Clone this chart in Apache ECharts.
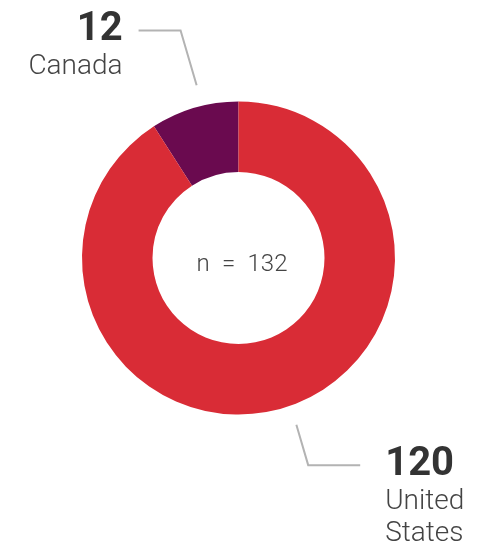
<!DOCTYPE html>
<html>
<head>
<meta charset="utf-8">
<style>
  html, body { margin: 0; padding: 0; background: #fff; }
  #main { width: 482px; height: 546px; }
</style>
<script src="https://cdn.jsdelivr.net/npm/echarts@6/dist/echarts.min.js"></script>
</head>
<body>
<div id="main"></div>
<script>
// data
var countries = ['Canada', 'United States'];
var nameLines = [['Canada'], ['United', 'States']];
var counts = [12, 120];
var colors = ['#6a0a4f', '#d92c36'];
var total = counts.reduce(function (a, b) { return a + b; }, 0);

var myChart = echarts.init(document.getElementById('main'));

var NAME_LH = 32;

// label data: Canada first, drawn counter-clockwise from top
var pieData = countries.map(function (c, i) {
  var lines = nameLines[i].map(function (t) { return '{name|' + t + '}'; });
  return {
    name: c,
    value: counts[i],
    label: {
      formatter: '{num|' + counts[i] + '}\n' + lines.join('\n'),
      // push the name lines below so the number sits on the line
      padding: [NAME_LH * nameLines[i].length, 0, 0, 0],
      distanceToLabelLine: i === 0 ? 16 : 25
    },
    labelLine: i === 0 ? { length: 57, length2: 42 } : { length: 42, length2: 52 }
  };
});

myChart.setOption({
  animation: false,
  title: {
    text: 'n\u2002=\u2002' + total,
    left: 237,
    top: 260,
    textAlign: 'center',
    textVerticalAlign: 'middle',
    textStyle: {
      fontFamily: 'Roboto',
      fontWeight: 300,
      fontSize: 24,
      color: '#444'
    }
  },
  series: [{
    // the donut
    type: 'pie',
    center: [238.5, 258],
    radius: [86, 156.5],
    clockwise: false,
    startAngle: 90,
    silent: true,
    label: { show: false },
    labelLine: { show: false },
    data: countries.map(function (c, i) {
      return { name: c, value: counts[i], itemStyle: { color: colors[i] } };
    })
  }, {
    // invisible ring carrying the labels, so the lines start off the edge
    type: 'pie',
    center: [246.5, 255],
    radius: [176, 177],
    clockwise: false,
    startAngle: 90,
    silent: true,
    itemStyle: { color: 'rgba(0,0,0,0)', borderWidth: 0 },
    label: {
      show: true,
      position: 'outside',
      fontFamily: 'Roboto',
      rich: {
        num: {
          fontFamily: 'Roboto',
          fontWeight: 'bold',
          fontSize: 40,
          lineHeight: 42,
          color: '#333'
        },
        name: {
          fontFamily: 'Roboto',
          fontWeight: 300,
          fontSize: 28,
          lineHeight: NAME_LH,
          color: '#444'
        }
      }
    },
    labelLine: {
      show: true,
      lineStyle: { color: '#b3b3b3', width: 2 }
    },
    data: pieData
  }]
});
</script>
</body>
</html>
